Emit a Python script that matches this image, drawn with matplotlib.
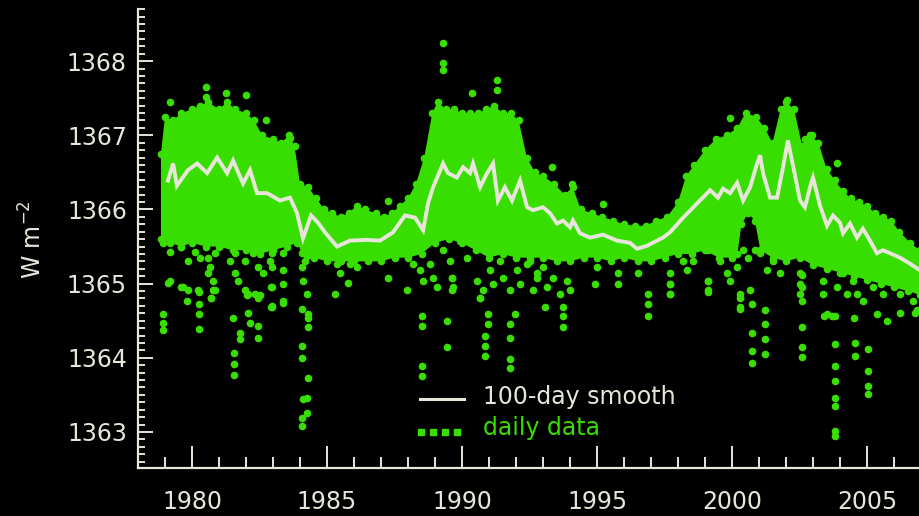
import numpy as np
import matplotlib
matplotlib.use("Agg")
import matplotlib.pyplot as plt
from matplotlib.ticker import MultipleLocator

# 100-day smoothed total solar irradiance (year, W m^-2)
smooth_year = [1979.11, 1979.30, 1979.44, 1979.85, 1980.19, 1980.56, 1980.93, 1981.30, 1981.52,
               1981.89, 1982.15, 1982.41, 1982.78, 1983.26, 1983.63, 1983.89, 1984.11, 1984.41,
               1984.67, 1984.93, 1985.37, 1985.85, 1986.48, 1986.96, 1987.44, 1987.89, 1988.26,
               1988.56, 1988.74, 1988.93, 1989.30, 1989.48, 1989.81, 1990.04, 1990.30, 1990.41,
               1990.67, 1990.93, 1991.15, 1991.33, 1991.59, 1991.85, 1992.15, 1992.41, 1992.63,
               1993.00, 1993.26, 1993.52, 1993.74, 1994.00, 1994.11, 1994.37, 1994.74, 1995.22,
               1995.74, 1996.22, 1996.48, 1996.85, 1997.22, 1997.44, 1997.70, 1998.19, 1998.81,
               1999.19, 1999.48, 1999.67, 1999.93, 2000.19, 2000.41, 2000.67, 2000.93, 2001.04,
               2001.15, 2001.41, 2001.67, 2001.89, 2002.07, 2002.26, 2002.52, 2002.70, 2002.89,
               2003.00, 2003.26, 2003.52, 2003.74, 2004.00, 2004.11, 2004.37, 2004.63, 2004.85,
               2005.11, 2005.37, 2005.59, 2005.85, 2006.22, 2006.59, 2006.96]
smooth_val = [1366.39, 1366.62, 1366.32, 1366.53, 1366.62, 1366.49, 1366.70, 1366.49, 1366.66,
              1366.35, 1366.53, 1366.22, 1366.22, 1366.12, 1366.16, 1365.95, 1365.61, 1365.92,
              1365.82, 1365.69, 1365.50, 1365.58, 1365.59, 1365.58, 1365.69, 1365.92, 1365.89,
              1365.72, 1366.08, 1366.30, 1366.62, 1366.49, 1366.43, 1366.57, 1366.49, 1366.62,
              1366.30, 1366.49, 1366.62, 1366.12, 1366.30, 1366.12, 1366.39, 1366.03, 1365.99,
              1366.03, 1365.95, 1365.81, 1365.85, 1365.76, 1365.85, 1365.68, 1365.62, 1365.66,
              1365.58, 1365.55, 1365.47, 1365.51, 1365.58, 1365.62, 1365.69, 1365.89, 1366.12,
              1366.26, 1366.16, 1366.28, 1366.22, 1366.36, 1366.12, 1366.30, 1366.62, 1366.73,
              1366.49, 1366.16, 1366.16, 1366.57, 1366.93, 1366.59, 1366.12, 1366.03, 1366.30,
              1366.43, 1366.05, 1365.78, 1365.92, 1365.82, 1365.68, 1365.81, 1365.62, 1365.74,
              1365.58, 1365.41, 1365.45, 1365.41, 1365.35, 1365.27, 1365.18]

# Upper and lower edges of the dense cloud of daily values
top_year = [1978.85, 1979.0, 1979.3, 1979.6, 1980.0, 1980.3, 1980.6, 1981.0, 1981.3, 1981.6,
            1982.0, 1982.3, 1982.6, 1983.0, 1983.3, 1983.6, 1983.8, 1984.0, 1984.3, 1984.6,
            1984.9, 1985.2, 1985.5, 1985.8, 1986.1, 1986.4, 1986.8, 1987.1, 1987.4, 1987.7,
            1988.0, 1988.3, 1988.6, 1988.9, 1989.1, 1989.4, 1989.7, 1990.0, 1990.3, 1990.6,
            1990.9, 1991.2, 1991.5, 1991.8, 1992.1, 1992.4, 1992.7, 1993.0, 1993.4, 1993.8,
            1994.1, 1994.4, 1994.8, 1995.2, 1995.6, 1996.0, 1996.4, 1996.8, 1997.2, 1997.6,
            1998.0, 1998.3, 1998.6, 1999.0, 1999.4, 1999.8, 2000.2, 2000.5, 2000.9, 2001.2,
            2001.5, 2001.8, 2002.0, 2002.3, 2002.6, 2002.9, 2003.2, 2003.5, 2003.8, 2004.1,
            2004.4, 2004.7, 2005.0, 2005.3, 2005.6, 2005.9, 2006.2, 2006.6, 2006.96]
top_val = [1366.75, 1367.25, 1367.20, 1367.30, 1367.35, 1367.40, 1367.45, 1367.35, 1367.45, 1367.35,
           1367.30, 1367.20, 1367.00, 1366.95, 1366.90, 1367.00, 1366.85, 1366.35, 1366.30, 1366.15,
           1366.00, 1365.95, 1365.90, 1365.95, 1366.05, 1366.00, 1365.95, 1365.90, 1365.95, 1366.05,
           1366.15, 1366.35, 1366.70, 1367.30, 1367.45, 1367.35, 1367.35, 1367.30, 1367.30, 1367.30,
           1367.35, 1367.40, 1367.30, 1367.30, 1367.20, 1366.70, 1366.50, 1366.45, 1366.35, 1366.20,
           1366.30, 1366.00, 1365.95, 1365.90, 1365.85, 1365.80, 1365.78, 1365.78, 1365.85, 1365.90,
           1366.10, 1366.45, 1366.60, 1366.80, 1366.95, 1367.00, 1367.10, 1367.30, 1367.25, 1367.10,
           1366.90, 1367.35, 1367.45, 1367.35, 1366.85, 1367.00, 1366.90, 1366.55, 1366.40, 1366.25,
           1366.15, 1366.10, 1366.05, 1365.95, 1365.90, 1365.85, 1365.70, 1365.55, 1365.45]

bot_year = [1978.85, 1979.2, 1979.6, 1980.0, 1980.5, 1981.0, 1981.5, 1982.0, 1982.5, 1983.0,
            1983.5, 1983.9, 1984.2, 1984.5, 1985.0, 1985.5, 1986.0, 1986.5, 1987.0, 1987.5,
            1988.0, 1988.5, 1989.0, 1989.5, 1990.0, 1990.5, 1991.0, 1991.5, 1992.0, 1992.5,
            1993.0, 1993.5, 1994.0, 1994.5, 1995.0, 1995.5, 1996.0, 1996.5, 1997.0, 1997.5,
            1998.0, 1998.5, 1999.0, 1999.5, 2000.0, 2000.2, 2000.35, 2000.6, 2000.85, 2001.05,
            2001.5, 2002.0, 2002.5, 2003.0, 2003.5, 2004.0, 2004.5, 2005.0, 2005.5, 2006.0,
            2006.5, 2006.96]
bot_val = [1365.60, 1365.55, 1365.50, 1365.55, 1365.50, 1365.50, 1365.45, 1365.45, 1365.40, 1365.45,
           1365.50, 1365.55, 1365.30, 1365.35, 1365.30, 1365.30, 1365.30, 1365.30, 1365.30, 1365.35,
           1365.35, 1365.40, 1365.55, 1365.60, 1365.55, 1365.45, 1365.35, 1365.40, 1365.35, 1365.35,
           1365.35, 1365.30, 1365.30, 1365.35, 1365.35, 1365.30, 1365.35, 1365.30, 1365.30, 1365.35,
           1365.40, 1365.40, 1365.45, 1365.35, 1365.35, 1365.40, 1365.80, 1365.95, 1365.85, 1365.45,
           1365.35, 1365.30, 1365.35, 1365.25, 1365.20, 1365.15, 1365.10, 1365.05, 1365.00, 1364.95,
           1364.90, 1364.85]

# Scattered daily values below the dense cloud
low_year = [1978.93, 1979.19, 1979.59, 1979.85, 1980.11, 1980.30, 1980.59, 1980.67, 1980.85, 1981.04,
            1981.41, 1981.59, 1981.78, 1981.96, 1982.26, 1982.44, 1982.63, 1982.89, 1981.59, 1981.70,
            1981.96, 1982.07, 1982.33, 1982.44, 1979.59, 1979.85, 1980.22, 1980.59, 1980.78, 1980.85,
            1980.70, 1979.19, 1982.93, 1982.93, 1982.96, 1982.96, 1982.96, 1982.96, 1984.07, 1984.07,
            1984.11, 1984.26, 1984.30, 1985.37, 1985.48, 1985.85, 1986.11,
            1987.96, 1988.19, 1988.44, 1988.56, 1988.81, 1988.93, 1989.07, 1989.30, 1989.56, 1989.63,
            1989.67, 1989.93, 1990.19, 1990.56, 1990.67, 1990.78, 1991.04, 1991.15, 1991.41, 1991.52,
            1991.78, 1992.04, 1992.15, 1992.41, 1992.63, 1992.78,
            1992.52, 1992.78, 1993.00, 1993.15, 1993.37, 1993.63, 1993.89, 1994.00, 1995.00, 1995.78,
            1997.70, 1997.70, 1997.70, 1998.19, 1998.33, 1998.56, 1998.56, 1999.11, 1999.11, 1999.11,
            1999.56, 1999.81, 1999.93, 2000.19, 2000.30, 2000.30, 2000.67, 2000.40, 2000.60, 2000.85,
            2001.04, 2001.30, 2001.52, 2001.78, 2002.26,
            2002.52, 2002.52, 2002.52, 2003.37, 2003.37, 2003.52, 2003.89, 2004.11, 2004.26, 2004.48,
            2004.63, 2004.85, 2005.22, 2005.37, 2005.59, 2005.74, 2005.96, 2006.22, 2006.48, 2006.70,
            2006.85]
low_val = [1365.55, 1365.42, 1365.49, 1365.31, 1365.42, 1365.35, 1365.35, 1365.22, 1365.41, 1365.54,
           1365.31, 1365.41, 1365.55, 1365.31, 1365.41, 1365.22, 1365.14, 1365.31, 1365.14, 1365.04,
           1364.91, 1364.86, 1364.86, 1364.81, 1364.95, 1364.91, 1364.91, 1365.14, 1365.04, 1364.91,
           1364.81, 1365.04, 1364.95, 1364.68, 1365.41, 1365.22, 1364.95, 1364.68, 1365.41, 1365.22,
           1365.04, 1364.86, 1364.59, 1365.27, 1365.14, 1365.27, 1365.22,
           1365.45, 1365.27, 1365.18, 1365.04, 1365.27, 1365.08, 1364.95, 1365.45, 1365.31, 1365.08,
           1364.95, 1365.58, 1365.35, 1365.04, 1364.81, 1364.91, 1365.18, 1365.00, 1365.31, 1365.08,
           1364.91, 1365.18, 1365.00, 1365.27, 1364.91, 1365.08,
           1365.31, 1365.14, 1365.22, 1364.95, 1365.08, 1364.86, 1365.04, 1364.91, 1365.22, 1365.14,
           1365.14, 1365.00, 1364.86, 1365.31, 1365.18, 1365.49, 1365.31, 1365.45, 1365.04, 1364.91,
           1365.31, 1365.14, 1365.04, 1365.22, 1364.86, 1364.68, 1364.91, 1365.45, 1365.35, 1365.45,
           1365.41, 1365.18, 1365.31, 1365.14, 1365.41,
           1365.14, 1365.00, 1364.86, 1365.04, 1364.86, 1364.59, 1364.95, 1365.14, 1364.86, 1365.04,
           1364.86, 1364.77, 1364.95, 1364.59, 1364.86, 1364.50, 1365.08, 1364.86, 1365.04, 1364.77,
           1364.64]

# Isolated daily values far from the dense cloud
out_year = [1978.93, 1978.93, 1978.93, 1979.10, 1979.67, 1979.80, 1980.26, 1980.26, 1980.26, 1980.26,
            1980.78, 1980.70, 1981.52, 1981.78, 1981.78, 1981.56, 1981.56, 1981.56, 1982.07, 1982.15,
            1982.44, 1982.44, 1982.04, 1982.52, 1982.96, 1983.37, 1983.37, 1983.37, 1983.37, 1983.37,
            1984.07, 1984.07, 1984.07, 1984.11, 1984.26, 1984.30, 1984.26, 1984.07, 1984.07, 1984.30,
            1984.30, 1985.30, 1985.78, 1987.26, 1987.26, 1987.96, 1988.52, 1988.52, 1988.52, 1988.52,
            1989.44, 1989.44, 1989.63, 1989.63, 1990.85, 1990.85, 1990.85, 1990.96, 1990.96, 1991.78,
            1991.78, 1991.78, 1991.78, 1991.96, 1990.67, 1993.07, 1993.74, 1993.74, 1993.74, 1994.93,
            1995.78, 1996.89, 1996.89, 1996.89, 1996.52, 1997.70, 1997.70, 1999.11, 1999.11, 2000.30,
            2000.30, 2000.74, 2000.74, 2000.74, 2000.74, 2001.22, 2001.22, 2001.22, 2001.22, 2002.59,
            2002.59, 2002.59, 2002.59, 2002.59, 2002.59, 2003.81, 2003.81, 2003.81, 2003.81, 2003.81,
            2003.81, 2003.81, 2003.81, 2004.56, 2004.56, 2005.04, 2005.04, 2005.04, 2005.04, 2003.40,
            2003.70, 2004.50, 2006.22, 2006.78,
            1980.52, 1980.52, 1981.26, 1979.19, 1982.00, 1982.74, 1983.63, 1989.30, 1989.30, 1989.30,
            1990.37, 1991.30, 1991.30, 1993.33, 1994.07, 1995.22, 1999.93, 2002.04, 2002.96, 2003.89,
            2002.70]
out_val = [1364.59, 1364.47, 1364.38, 1365.01, 1364.95, 1364.77, 1364.89, 1364.73, 1364.59, 1364.39,
           1364.91, 1364.81, 1364.54, 1364.34, 1364.26, 1364.07, 1363.92, 1363.77, 1364.61, 1364.47,
           1364.43, 1364.27, 1364.84, 1364.84, 1364.70, 1365.18, 1365.00, 1364.77, 1364.74, 1365.41,
           1364.66, 1364.16, 1364.00, 1363.45, 1363.46, 1363.73, 1363.26, 1363.19, 1363.08, 1364.54,
           1364.41, 1364.86, 1365.01, 1366.12, 1365.08, 1364.91, 1364.57, 1364.43, 1363.89, 1363.76,
           1364.50, 1364.14, 1365.08, 1364.91, 1364.30, 1364.16, 1364.03, 1364.59, 1364.46, 1364.46,
           1364.27, 1363.99, 1363.86, 1364.59, 1364.81, 1364.68, 1364.68, 1364.57, 1364.41, 1365.00,
           1365.00, 1364.86, 1364.73, 1364.57, 1365.14, 1365.00, 1364.86, 1365.04, 1364.89, 1364.81,
           1364.66, 1364.73, 1364.34, 1364.09, 1363.93, 1364.64, 1364.46, 1364.26, 1364.05, 1365.11,
           1364.95, 1364.77, 1364.41, 1364.14, 1364.01, 1364.57, 1364.19, 1363.89, 1363.69, 1363.46,
           1363.35, 1363.01, 1362.95, 1364.20, 1364.03, 1364.12, 1363.82, 1363.62, 1363.51, 1364.57,
           1364.57, 1364.54, 1364.61, 1364.61,
           1367.65, 1367.51, 1367.57, 1367.45, 1367.54, 1367.20, 1366.96, 1368.24, 1367.97, 1367.88,
           1367.57, 1367.74, 1367.61, 1366.57, 1366.35, 1366.08, 1367.23, 1367.47, 1367.00, 1366.62,
           1366.95]

x_ticks = [1980, 1985, 1990, 1995, 2000, 2005]
y_ticks = [1363, 1364, 1365, 1366, 1367, 1368]

FG = "#e8e6da"
GREEN = "#38de00"
FONT = "DejaVu Sans"
W, H = 920, 516

fig = plt.figure(figsize=(W / 100, H / 100), dpi=100, facecolor="black")
ax = fig.add_axes([138 / W, (H - 468) / H, 783 / W, 459 / H])
ax.set_facecolor("black")

# daily data: dense cloud, its ragged edges, and scattered days
cloud_x = np.concatenate([top_year, bot_year[::-1]])
cloud_y = np.concatenate([top_val, bot_val[::-1]])
ax.fill(cloud_x, cloud_y, color=GREEN, lw=0, zorder=2)
dot = dict(s=30, color=GREEN, lw=0, zorder=2)
ax.scatter(top_year, top_val, **dot)
ax.scatter(bot_year, bot_val, **dot)
ax.scatter(low_year, low_val, **dot)
ax.scatter(out_year, out_val, **dot)

# 100-day smooth
ax.plot(smooth_year, smooth_val, color=FG, lw=2.8, zorder=3, solid_joinstyle="miter")

ax.set_xlim(1978, 2007)
ax.set_ylim(1362.514, 1368.703)

for side in ("top", "right"):
    ax.spines[side].set_visible(False)
for side in ("left", "bottom"):
    ax.spines[side].set_color(FG)
    ax.spines[side].set_linewidth(1.6)

ax.set_xticks(x_ticks)
ax.set_xticklabels([str(t) for t in x_ticks])
ax.set_yticks(y_ticks)
ax.set_yticklabels([str(t) for t in y_ticks])
ax.xaxis.set_minor_locator(MultipleLocator(1))
ax.yaxis.set_minor_locator(MultipleLocator(0.1))

ax.tick_params(axis="x", which="major", direction="in", length=16, width=1.4,
               color=FG, labelcolor=FG, labelsize=17, pad=16)
ax.tick_params(axis="x", which="minor", direction="in", length=8, width=1.4, color=FG)
ax.tick_params(axis="y", which="major", direction="in", length=11, width=1.4,
               color=FG, labelcolor=FG, labelsize=17, pad=8)
ax.tick_params(axis="y", which="minor", direction="in", length=5, width=1.4, color=FG)
for lab in ax.get_xticklabels() + ax.get_yticklabels():
    lab.set_family(FONT)

fig.text(33 / W, 1 - 240 / H, r"W m$^{-2}$", rotation=90, color=FG, fontsize=17,
         family=FONT, ha="center", va="center")

# legend
ax.plot([420 / W, 464 / W], [1 - 399 / H, 1 - 399 / H], color=FG, lw=2.2,
        transform=fig.transFigure, clip_on=False)
ax.plot([421 / W, 433 / W, 445 / W, 457 / W], [1 - 432 / H] * 4, "s", color=GREEN, ms=4,
        transform=fig.transFigure, clip_on=False)
fig.text(483 / W, 1 - 397 / H, "100-day smooth", color=FG, fontsize=17, family=FONT,
         ha="left", va="center")
fig.text(483 / W, 1 - 428 / H, "daily data", color=GREEN, fontsize=17, family=FONT,
         ha="left", va="center")

fig.savefig("out.png", dpi=100, facecolor="black")
